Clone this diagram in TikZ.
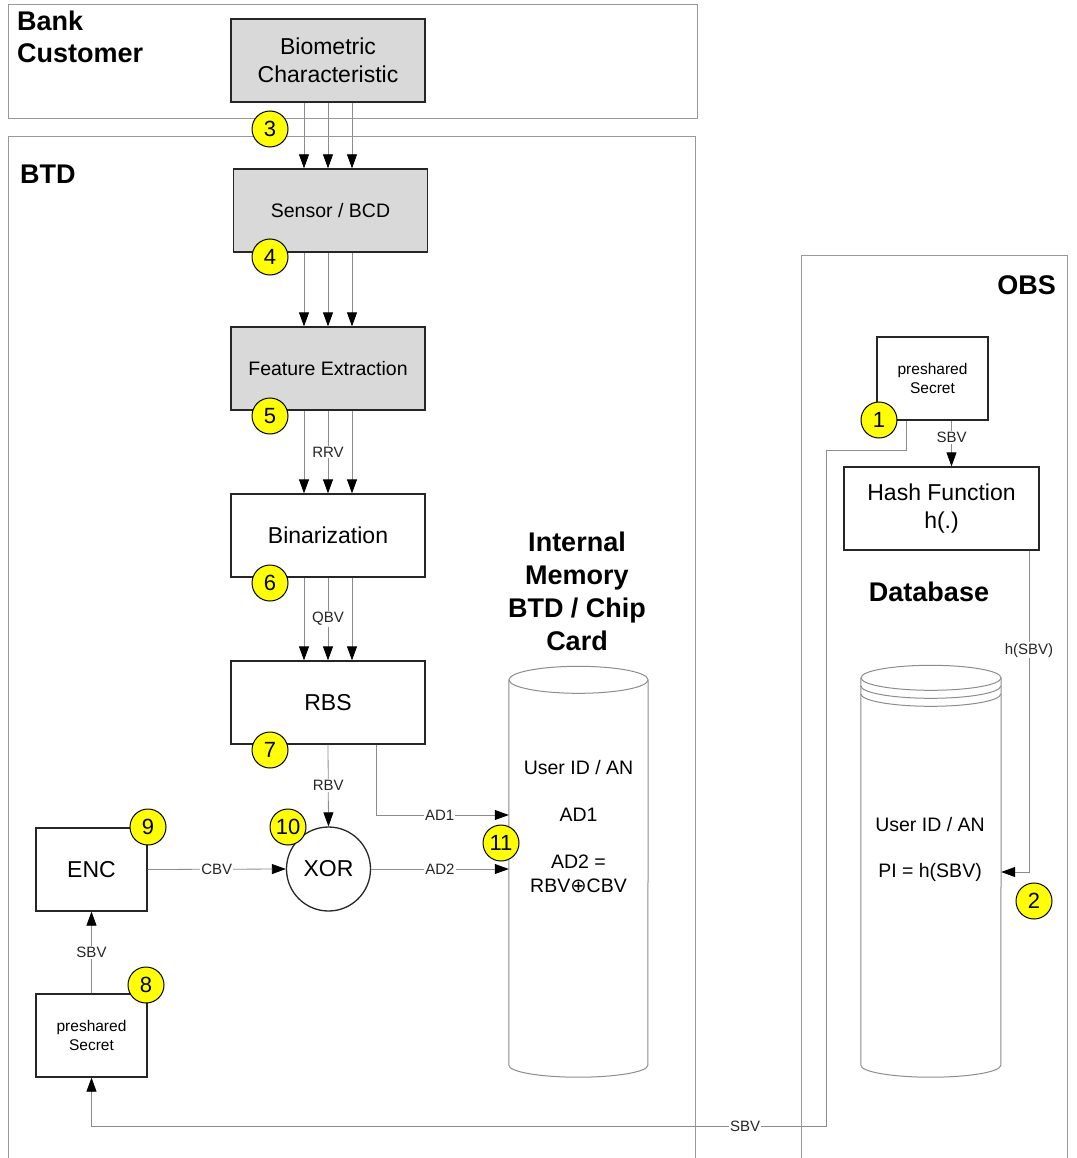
\documentclass[tikz,border=0pt]{standalone}
\usepackage{fontspec}
\setmainfont{Liberation Sans}
\newfontfamily\dejavu{DejaVu Sans}
\usetikzlibrary{arrows.meta,calc}
\definecolor{boxgray}{HTML}{D9D9D9}
\definecolor{framegray}{HTML}{999999}
\definecolor{linegray}{HTML}{8C8C8C}
\definecolor{numyellow}{HTML}{FFFF00}
\begin{document}
\begin{tikzpicture}[x=1pt,y=-1pt,
  frame/.style={draw=framegray, line width=0.9pt},
  box/.style={draw=black!85, line width=1.3pt, minimum width=194pt, minimum height=83pt, inner sep=0pt, align=center, font=\fontsize{23}{28}\selectfont},
  graybox/.style={box, fill=boxgray},
  smallbox/.style={box, minimum width=111pt},
  psbox/.style={smallbox, font=\fontsize{15.5}{18.5}\selectfont},
  conn/.style={draw=linegray, line width=0.8pt},
  arr/.style={conn, -{Triangle[length=14pt,width=10pt,color=black]}},
  lbl/.style={fill=white, inner sep=1pt, font=\fontsize{15}{18}\selectfont, text=black!85},
  num/.style={circle, draw=black, fill=numyellow, line width=1pt, minimum size=36pt, inner sep=0pt, font=\fontsize{22}{22}\selectfont},
  title/.style={inner sep=0pt, font=\fontsize{27}{32}\selectfont\bfseries},
  cyl/.style={draw=linegray, line width=1pt},
  cyltxt/.style={inner sep=0pt, font=\fontsize{19.5}{23}\selectfont},
  cylnode/.style={inner sep=0pt, draw=none}
]
\useasboundingbox (0,0) rectangle (1076,1158);

% frames
\draw[frame] (8,4) rectangle (697,118);
\draw[frame] (8,1170) |- (695,136) -- (695,1170);
\draw[frame] (801,1170) |- (1067,255) -- (1067,1170);

% titles
\node[title, anchor=north west, align=left] (tbank) at (17,11) {Bank\\Customer};
\node[title, anchor=base west] (tbtd) at (20,184) {BTD};
\node[title, anchor=base east] (tobs) at (1056,294) {OBS};
\node[title, anchor=base] (tdb) at (929,601) {Database};
\node[title, anchor=north, align=center, font=\fontsize{27}{33}\selectfont\bfseries] (tmem) at (577,532) {Internal\\Memory\\BTD / Chip\\Card};

% boxes
\node[graybox] (bio) at (328,60.5) {Biometric\\Characteristic};
\node[graybox, font=\fontsize{19.5}{23}\selectfont] (sensor) at (330.5,210.5) {Sensor / BCD};
\node[graybox, font=\fontsize{19.5}{23}\selectfont] (fe) at (328,368.5) {Feature Extraction};
\node[box] (bin) at (328,535.5) {Binarization};
\node[box] (rbs) at (328,702.5) {RBS};
\node[smallbox] (enc) at (91.5,869.5) {ENC};
\node[psbox] (psL) at (91.5,1035.5) {preshared\\Secret};
\node[circle, draw=black!85, line width=1.3pt, minimum size=84pt, inner sep=0pt, font=\fontsize{23}{28}\selectfont] (xor) at (328.5,869) {XOR};
\node[psbox] (psR) at (932.5,378.5) {preshared\\Secret};
\node[box, minimum width=195pt] (hash) at (941.5,508.5) {Hash Function\\h(.)};

% cylinder: internal memory
\node[cylnode, minimum width=139pt, minimum height=397pt] (mem) at (578.5,878.5) {};
\draw[cyl] (mem.north west) -- ([yshift=12pt]mem.south west)
  arc[start angle=180, end angle=360, x radius=69.5pt, y radius=12pt] -- (mem.north east);
\draw[cyl] (mem.north) ellipse[x radius=69.5pt, y radius=13.5pt];
\node[cyltxt] (m1) at (578.5,768) {User ID / AN};
\node[cyltxt] (m2) at (578.5,815) {AD1};
\node[cyltxt] (m3) at (578.5,862) {AD2 =};
\node[cyltxt] (m4) at (578.5,886) {RBV{\dejavu ⊕}CBV};

% cylinder: database
\node[cylnode, minimum width=140pt, minimum height=399pt] (db) at (931,877.5) {};
\draw[cyl] (db.north west) -- ([yshift=12pt]db.south west)
  arc[start angle=180, end angle=360, x radius=70pt, y radius=12pt] -- (db.north east);
\draw[cyl] (db.north) ellipse[x radius=70pt, y radius=12.5pt];
\draw[cyl] ([yshift=-8pt]db.north west) arc[start angle=180, end angle=360, x radius=70pt, y radius=12.5pt];
\draw[cyl] ([yshift=-16pt]db.north west) arc[start angle=180, end angle=360, x radius=70pt, y radius=12.5pt];
\node[cyltxt] (d1) at (930,825) {User ID / AN};
\node[cyltxt] (d2) at (930,872) {PI = h(SBV)};

% connectors
\foreach \s in {-24,0,24}
  \draw[arr] ([xshift=\s pt]bio.south) -- ([xshift=\s pt]bio.south |- sensor.north);
\foreach \s in {-24,0,24}
  \draw[arr] ([xshift=\s pt]fe.north |- sensor.south) -- ([xshift=\s pt]fe.north);
\foreach \s in {-24,24}
  \draw[arr] ([xshift=\s pt]fe.south) -- ([xshift=\s pt]bin.north);
\draw[arr] (fe.south) -- node[lbl]{RRV} (bin.north);
\foreach \s in {-24,24}
  \draw[arr] ([xshift=\s pt]bin.south) -- ([xshift=\s pt]rbs.north);
\draw[arr] (bin.south) -- node[lbl]{QBV} (rbs.north);
\draw[arr] (rbs.south) -- node[lbl]{RBV} (xor.north);
\draw[arr] ([xshift=48pt]rbs.south) |- node[lbl, pos=0.74]{AD1} (mem.west |- m2);
\draw[arr] (enc.east) -- node[lbl]{CBV} (xor.west);
\draw[arr] (xor.east) -- node[lbl]{AD2} (xor.east -| mem.west);
\draw[arr] (psL.north) -- node[lbl]{SBV} (enc.south);
\draw[arr] ([xshift=19pt]psR.south) -- node[lbl, pos=0.37]{SBV} ([xshift=19pt]psR.south |- hash.north);
\draw[arr] ([xshift=87.5pt]hash.south) |- node[lbl, pos=0.155]{h(SBV)} (db.east |- d2);
\draw[arr] ([xshift=-26.5pt]psR.south) -- ++(0,30) -- ++(-80,0) -- ++(0,676)
  -| node[lbl, pos=0.055]{SBV} (psL.south);

% numbered markers
\node[num] (n1) at (879,420) {1};
\node[num] (n2) at (1034,901) {2};
\node[num] (n3) at (270,129) {3};
\node[num] (n4) at (270,257) {4};
\node[num] (n5) at (270,416) {5};
\node[num] (n6) at (270,583) {6};
\node[num] (n7) at (270,750) {7};
\node[num] (n8) at (146,985) {8};
\node[num] (n9) at (148,827) {9};
\node[num] (n10) at (288,827) {10};
\node[num] (n11) at (501,843) {11};
\end{tikzpicture}
\end{document}
